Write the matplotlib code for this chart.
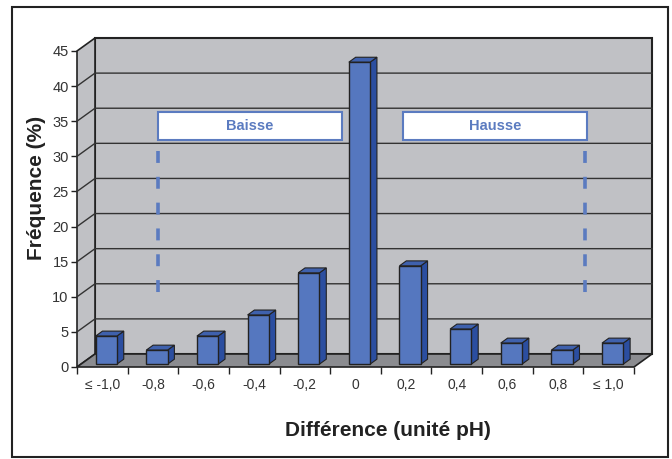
import matplotlib
matplotlib.use('Agg')
import matplotlib.pyplot as plt
from matplotlib.patches import Polygon, Rectangle
from matplotlib.transforms import IdentityTransform

plt.rcParams['font.family'] = ['Liberation Sans', 'DejaVu Sans']

# donnees
categories = ['≤ -1,0', '-0,8', '-0,6', '-0,4', '-0,2', '0', '0,2', '0,4', '0,6', '0,8', '≤ 1,0']
frequences = [4, 2, 4, 7, 13, 43, 14, 5, 3, 2, 3]
yticks = [0, 5, 10, 15, 20, 25, 30, 35, 40, 45]

# couleurs
mur = '#c0c1c5'
sol = '#8b8c90'
bleu_face = '#5577bf'
bleu_cote = '#2b4ea0'
bleu_haut = '#3f61ad'
bleu_txt = '#5b7bc0'

# profondeur 3D (pixels)
DX, DY = 18, 13

fig = plt.figure(figsize=(6.72, 4.59), dpi=100)
ax = fig.add_axes([77 / 672, 1 - 367 / 459, 557 / 672, 316 / 459])
n = len(categories)
ax.set_xlim(-0.5, n - 0.5)
ax.set_ylim(0, 45)
ax.patch.set_visible(False)
for s in ax.spines.values():
    s.set_visible(False)

ident = IdentityTransform()


def pt(x, y, d=0.0):
    px, py = ax.transData.transform((x, y))
    return (px + d * DX, py + d * DY)


def poly(points, fc, ec='#222222', lw=0.8, z=1):
    p = Polygon(points, closed=True, facecolor=fc, edgecolor=ec, linewidth=lw,
                transform=ident, zorder=z, clip_on=False)
    fig.add_artist(p)


x0, x1 = -0.5, n - 0.5
# mur du fond
poly([pt(x0, 0, 1), pt(x1, 0, 1), pt(x1, 45, 1), pt(x0, 45, 1)], mur, lw=1.5, z=1)
# mur de gauche
poly([pt(x0, 0, 0), pt(x0, 0, 1), pt(x0, 45, 1), pt(x0, 45, 0)], mur, lw=1.2, z=1)
# sol
poly([pt(x0, 0, 0), pt(x1, 0, 0), pt(x1, 0, 1), pt(x0, 0, 1)], sol, lw=1.2, z=2)

# grille
for t in yticks[1:-1]:
    a, b, c = pt(x0, t, 0), pt(x0, t, 1), pt(x1, t, 1)
    fig.add_artist(plt.Line2D([a[0], b[0], c[0]], [a[1], b[1], c[1]], color='#333333',
                              lw=1.0, transform=ident, zorder=1.5))

# barres
w = 0.42
d1, d2 = 0.22, 0.6
for i, v in enumerate(frequences):
    xl, xr = i - w / 2, i + w / 2
    poly([pt(xr, 0, d1), pt(xr, 0, d2), pt(xr, v, d2), pt(xr, v, d1)], bleu_cote, z=5)
    poly([pt(xl, v, d1), pt(xr, v, d1), pt(xr, v, d2), pt(xl, v, d2)], bleu_haut, z=5)
    poly([pt(xl, 0, d1), pt(xr, 0, d1), pt(xr, v, d1), pt(xl, v, d1)], bleu_face, lw=1.0, z=6)

# axes et graduations
ax.set_yticks(yticks)
ax.set_xticks([i + 0.5 for i in range(-1, n)], minor=False)
ax.set_xticklabels([])
ax.set_xticks(range(n), minor=True)
ax.set_xticklabels(categories, minor=True)
ax.tick_params(axis='x', which='major', length=5, width=1, color='#222222')
ax.tick_params(axis='x', which='minor', length=0, pad=8, labelsize=10, labelcolor='#333333')
ax.tick_params(axis='y', length=4, width=1, color='#222222', labelsize=10.5, labelcolor='#333333', pad=2)

ax.set_ylabel('Fréquence (%)', fontsize=15, fontweight='bold', color='#222222')
ax.yaxis.set_label_coords(-0.056, 0.566)
ax.set_xlabel('Différence (unité pH)', fontsize=15, fontweight='bold', color='#222222')
ax.xaxis.set_label_coords(0.558, -0.17)

# encadres Baisse / Hausse
for xa, xb, txt, xd in [(1.1, 4.74, 'Baisse', 1.1), (5.94, 9.58, 'Hausse', 9.54)]:
    pa, pb = pt(xa, 32.3), pt(xb, 36.3)
    r = Rectangle(pa, pb[0] - pa[0], pb[1] - pa[1], transform=ident, facecolor='white',
                  edgecolor=bleu_txt, lw=1.5, zorder=7)
    fig.add_artist(r)
    fig.text((pa[0] + pb[0]) / 2 / 672, (pa[1] + pb[1]) / 2 / 459, txt, ha='center', va='center',
             fontsize=10.5, fontweight='bold', color=bleu_txt, zorder=8)
    qa, qb = pt(xd, 30.8), pt(xd, 10.4)
    fig.add_artist(plt.Line2D([qa[0], qb[0]], [qa[1], qb[1]], ls=(0, (3.3, 3.85)), lw=2.6,
                              color=bleu_txt, transform=ident, zorder=4))

# cadre exterieur
fig.add_artist(Rectangle((12, 2), 656, 450, transform=ident, fill=False, edgecolor='#222222', lw=1.5))

plt.savefig('out.png', dpi=100)
